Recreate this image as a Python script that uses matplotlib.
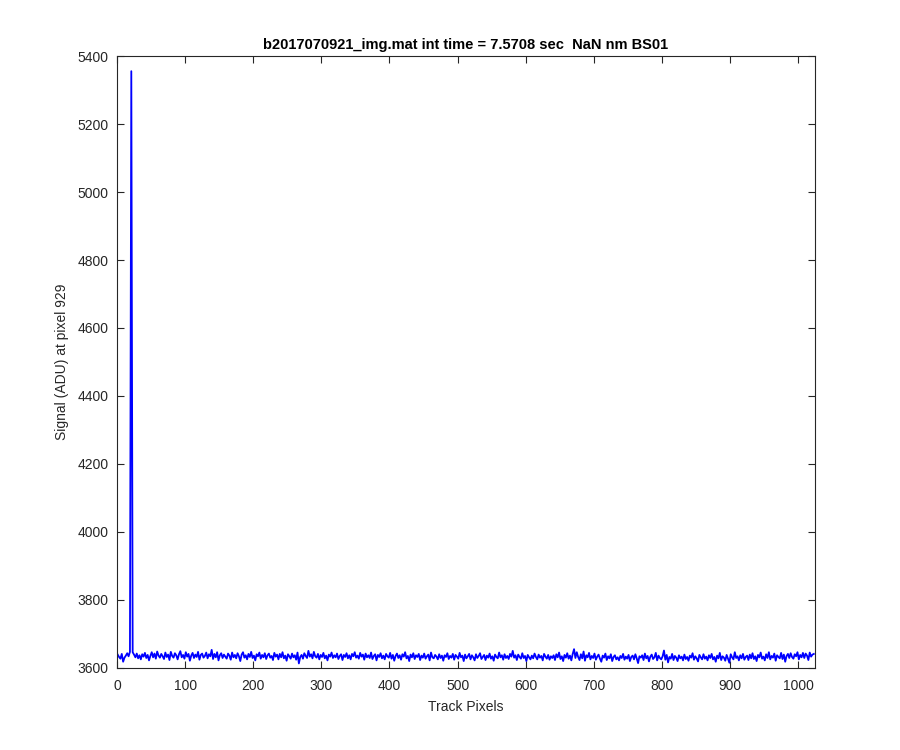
import numpy as np
import matplotlib
matplotlib.use("Agg")
import matplotlib.pyplot as plt

plt.rcParams['font.family'] = ['Liberation Sans', 'DejaVu Sans']

signal = [
    3638, 3631, 3626, 3640, 3617, 3629, 3635, 3642, 3633, 3646, 5356, 3645, 3638, 3630, 3641, 3627,
    3636, 3624, 3639, 3632, 3643, 3628, 3637, 3621, 3634, 3645, 3630, 3641, 3626, 3647, 3635, 3629,
    3640, 3633, 3625, 3644, 3631, 3638, 3622, 3646, 3634, 3629, 3642, 3636, 3624, 3639, 3648, 3630,
    3637, 3626, 3645, 3632, 3640, 3620, 3635, 3643, 3628, 3638, 3631, 3646, 3623, 3637, 3641, 3629,
    3634, 3644, 3627, 3639, 3633, 3652, 3625, 3640, 3630, 3645, 3621, 3636, 3642, 3628, 3638, 3632,
    3626, 3641, 3635, 3623, 3644, 3630, 3637, 3627, 3642, 3633, 3619, 3638, 3645, 3629, 3636, 3624,
    3640, 3631, 3646, 3628, 3635, 3621, 3639, 3633, 3644, 3626, 3637, 3630, 3642, 3625, 3636, 3641,
    3629, 3634, 3622, 3643, 3632, 3638, 3624, 3640, 3630, 3645, 3627, 3635, 3620, 3639, 3633, 3626,
    3641, 3630, 3636, 3623, 3644, 3612, 3631, 3637, 3626, 3642, 3634, 3628, 3649, 3632, 3639, 3627,
    3646, 3633, 3629, 3640, 3624, 3637, 3631, 3643, 3627, 3635, 3621, 3638, 3632, 3644, 3628, 3636,
    3630, 3641, 3625, 3634, 3639, 3622, 3637, 3631, 3642, 3627, 3636, 3624, 3640, 3633, 3645, 3629,
    3635, 3626, 3643, 3632, 3638, 3623, 3641, 3630, 3636, 3628, 3644, 3625, 3634, 3639, 3621, 3637,
    3631, 3642, 3627, 3635, 3624, 3640, 3633, 3629, 3643, 3626, 3637, 3620, 3634, 3641, 3628, 3636,
    3623, 3639, 3632, 3645, 3627, 3634, 3619, 3638, 3630, 3642, 3625, 3636, 3631, 3640, 3622, 3635,
    3629, 3641, 3626, 3633, 3638, 3621, 3644, 3630, 3627, 3637, 3632, 3624, 3639, 3628, 3635, 3620,
    3636, 3631, 3642, 3625, 3634, 3629, 3640, 3623, 3637, 3632, 3626, 3643, 3630, 3635, 3619, 3638,
    3627, 3633, 3640, 3624, 3636, 3630, 3621, 3639, 3628, 3634, 3642, 3625, 3631, 3637, 3622, 3635,
    3629, 3641, 3626, 3633, 3620, 3638, 3631, 3627, 3644, 3630, 3636, 3623, 3639, 3628, 3634, 3625,
    3640, 3632, 3649, 3629, 3636, 3622, 3638, 3631, 3626, 3642, 3628, 3634, 3619, 3637, 3630, 3624,
    3635, 3627, 3641, 3631, 3624, 3638, 3629, 3634, 3621, 3640, 3632, 3626, 3637, 3623, 3633, 3628,
    3636, 3622, 3639, 3630, 3644, 3625, 3633, 3619, 3637, 3629, 3642, 3626, 3635, 3621, 3640, 3654,
    3628, 3645, 3631, 3622, 3639, 3627, 3647, 3620, 3636, 3630, 3643, 3624, 3634, 3628, 3641, 3623,
    3632, 3638, 3626, 3617, 3635, 3629, 3641, 3622, 3633, 3627, 3639, 3619, 3631, 3636, 3624, 3630,
    3621, 3634, 3628, 3640, 3623, 3632, 3626, 3637, 3619, 3631, 3635, 3624, 3639, 3627, 3613, 3633,
    3629, 3636, 3622, 3641, 3627, 3634, 3618, 3632, 3638, 3625, 3630, 3643, 3621, 3635, 3628, 3624,
    3633, 3650, 3623, 3637, 3615, 3631, 3626, 3640, 3622, 3634, 3629, 3619, 3636, 3627, 3632, 3621,
    3638, 3625, 3631, 3620, 3635, 3629, 3642, 3623, 3633, 3627, 3618, 3637, 3630, 3624, 3639, 3626,
    3632, 3621, 3636, 3628, 3640, 3624, 3631, 3617, 3635, 3627, 3643, 3622, 3633, 3629, 3620, 3637,
    3626, 3614, 3639, 3630, 3624, 3645, 3628, 3633, 3621, 3636, 3627, 3640, 3623, 3631, 3635, 3622,
    3638, 3627, 3642, 3625, 3633, 3619, 3637, 3630, 3644, 3626, 3632, 3621, 3639, 3628, 3645, 3624,
    3634, 3629, 3641, 3620, 3636, 3631, 3627, 3643, 3625, 3638, 3617, 3634, 3640, 3628, 3642, 3631,
    3626, 3639, 3633, 3645, 3624, 3637, 3630, 3643, 3628, 3641, 3635, 3622, 3644, 3632, 3638, 3640,
]
pixels = np.arange(len(signal)) * 2 + 1

title = "b2017070921_img.mat int time = 7.5708 sec  NaN nm BS01"
xticks = list(range(0, 1001, 100))
yticks = list(range(3600, 5401, 200))

fig = plt.figure(figsize=(9, 7.5), dpi=100)
ax = fig.add_axes([0.13, 0.11, 0.775, 0.815])
ax.plot(pixels, signal, color=(0, 0, 1), lw=1.3)

ax.set_xlim(0, 1024)
ax.set_ylim(3600, 5400)
ax.set_xticks(xticks)
ax.set_yticks(yticks)
ax.tick_params(direction="in", top=True, right=True, length=5, width=0.8,
               color="#262626", labelsize=10, labelcolor="#262626")
ax.tick_params(axis="x", pad=8)
ax.tick_params(axis="y", pad=6)
for s in ax.spines.values():
    s.set_color("#262626")
    s.set_linewidth(0.8)

ax.set_xlabel("Track Pixels", fontsize=10, color="#262626", labelpad=5)
ax.set_ylabel("Signal (ADU) at pixel 929", fontsize=10, color="#262626", labelpad=6)
ax.set_title(title, fontsize=10.5, fontweight="bold", color="black", pad=5)

fig.savefig("out.png", dpi=100)
